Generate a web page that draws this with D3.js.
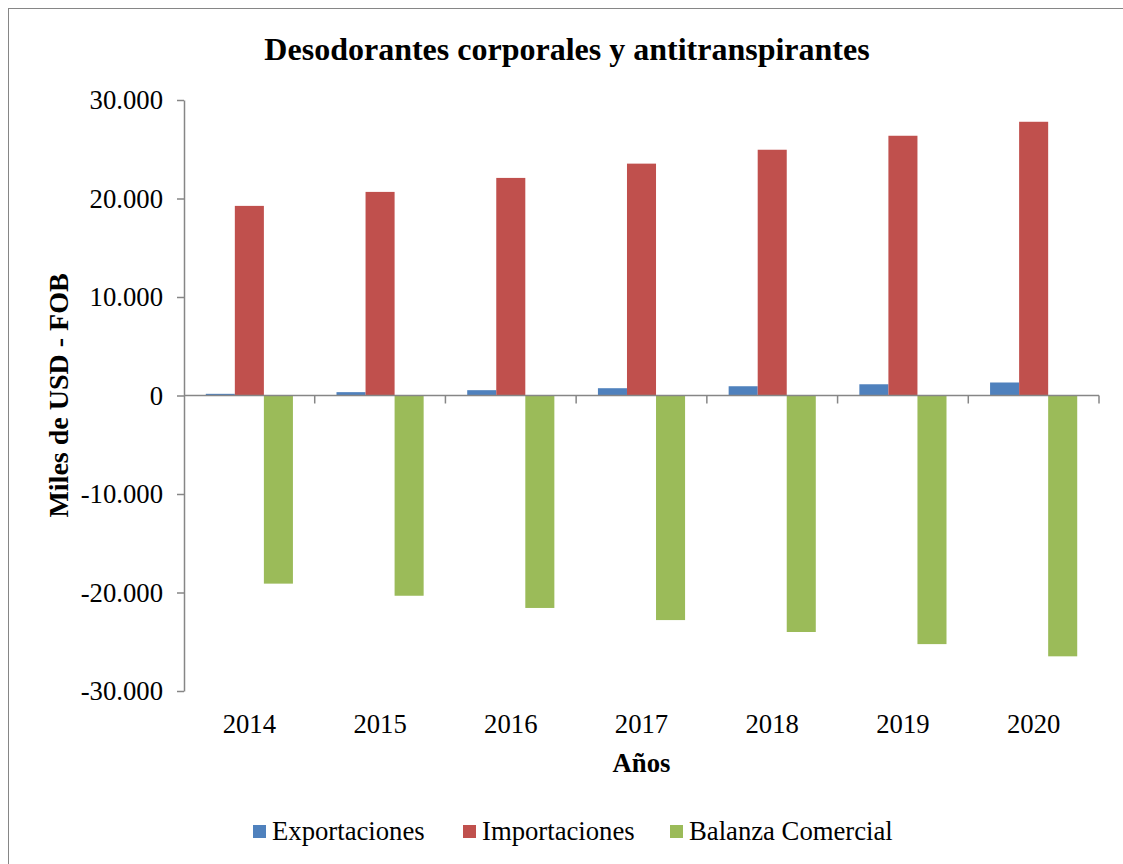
<!DOCTYPE html>
<html>
<head>
<meta charset="utf-8">
<script src="https://cdn.jsdelivr.net/npm/d3@7"></script>
<style>
  body { margin: 0; background: #fff; }
  text { font-family: "Liberation Serif", "Times New Roman", serif; fill: #000; }
</style>
</head>
<body>
<div id="container"></div>
<script>
// Données (miles de USD FOB)
const years = ["2014", "2015", "2016", "2017", "2018", "2019", "2020"];
const seriesNames = ["Exportaciones", "Importaciones", "Balanza Comercial"];
const exportaciones = [170, 340, 540, 740, 940, 1140, 1320];
const importaciones = [19250, 20670, 22090, 23540, 24950, 26370, 27790];
const balanza = [-19100, -20330, -21570, -22800, -24010, -25240, -26480];
const yTicks = [-30000, -20000, -10000, 0, 10000, 20000, 30000];
const colors = ["#4F81BD", "#C0504D", "#9BBB59"];

const width = 1123;
const height = 864;
const plot = { left: 184, right: 1099, top: 100, bottom: 691 };
const fontSize = "26.7px";

const seriesValues = [exportaciones, importaciones, balanza];
const rows = years.map((y, i) => ({ year: y, values: seriesValues.map(s => s[i]) }));

const svg = d3.select("#container")
    .append("svg")
    .attr("width", width)
    .attr("height", height);

// Cadre extérieur
svg.append("rect")
    .attr("x", 8.5).attr("y", 8.5)
    .attr("width", width + 20).attr("height", height + 20)
    .attr("fill", "none")
    .attr("stroke", "#868686")
    .attr("stroke-width", 1);

// Echelles
const x0 = d3.scaleBand()
    .domain(years)
    .range([plot.left, plot.right])
    .paddingInner(0);

const x1 = d3.scaleBand()
    .domain(d3.range(seriesNames.length))
    .range([0, x0.bandwidth()])
    .paddingInner(0)
    .paddingOuter(0.75);

const yScale = d3.scaleLinear()
    .domain([-30000, 30000])
    .range([plot.bottom, plot.top]);

const locale = d3.formatLocale({ decimal: ",", thousands: ".", grouping: [3], currency: ["$", ""], minus: "-" });
const fmt = locale.format(",.0f");

// Barres
svg.append("g").selectAll("g")
    .data(rows)
    .join("g")
    .attr("transform", d => `translate(${x0(d.year)},0)`)
    .selectAll("rect")
    .data(d => d.values.map((v, k) => ({ k, v })))
    .join("rect")
    .attr("x", d => x1(d.k))
    .attr("width", x1.bandwidth())
    .attr("y", d => yScale(Math.max(0, d.v)))
    .attr("height", d => Math.abs(yScale(d.v) - yScale(0)))
    .attr("fill", d => colors[d.k]);

// Axe Y
const yAxis = svg.append("g")
    .attr("transform", `translate(${plot.left},0)`)
    .call(d3.axisLeft(yScale).tickValues(yTicks).tickFormat(fmt).tickSize(7).tickSizeOuter(0).tickPadding(14));
yAxis.selectAll("path, line").attr("stroke", "#868686").attr("stroke-width", 1.5);
yAxis.selectAll("text").style("font-size", fontSize).attr("dy", "0.33em");

// Ligne du zéro avec graduations entre catégories
const zeroAxis = svg.append("g")
    .attr("transform", `translate(0,${yScale(0)})`);
zeroAxis.append("line")
    .attr("x1", plot.left).attr("x2", plot.right)
    .attr("stroke", "#868686").attr("stroke-width", 1.5);
const boundaries = years.slice(1).map(y => x0(y)).concat([plot.right]);
zeroAxis.selectAll(".tk")
    .data(boundaries)
    .join("line")
    .attr("class", "tk")
    .attr("x1", d => d).attr("x2", d => d)
    .attr("y1", 0).attr("y2", 8)
    .attr("stroke", "#868686").attr("stroke-width", 1.5);

// Etiquettes des années
const xAxis = svg.append("g")
    .attr("transform", `translate(0,${plot.bottom})`)
    .call(d3.axisBottom(x0).tickSize(0).tickPadding(0));
xAxis.select(".domain").remove();
xAxis.selectAll("text")
    .style("font-size", fontSize)
    .attr("y", 42)
    .attr("dy", null);

// Titre
svg.append("text")
    .attr("x", 567).attr("y", 60)
    .attr("text-anchor", "middle")
    .style("font-size", "32px")
    .style("font-weight", "bold")
    .text("Desodorantes corporales y antitranspirantes");

// Titres des axes
svg.append("text")
    .attr("x", (plot.left + plot.right) / 2).attr("y", 772)
    .attr("text-anchor", "middle")
    .style("font-size", fontSize)
    .style("font-weight", "bold")
    .text("Años");

svg.append("text")
    .attr("transform", `translate(68,${yScale(0)}) rotate(-90)`)
    .attr("text-anchor", "middle")
    .style("font-size", "28px")
    .style("font-weight", "bold")
    .text("Miles de USD - FOB");

// Légende
const legendX = [253, 463, 670];
const legend = svg.append("g").selectAll("g")
    .data(seriesNames)
    .join("g")
    .attr("transform", (d, i) => `translate(${legendX[i]},825)`);
legend.append("rect")
    .attr("width", 13).attr("height", 13)
    .attr("fill", (d, i) => colors[i]);
legend.append("text")
    .attr("x", 19).attr("y", 15)
    .style("font-size", fontSize)
    .text(d => d);
</script>
</body>
</html>
